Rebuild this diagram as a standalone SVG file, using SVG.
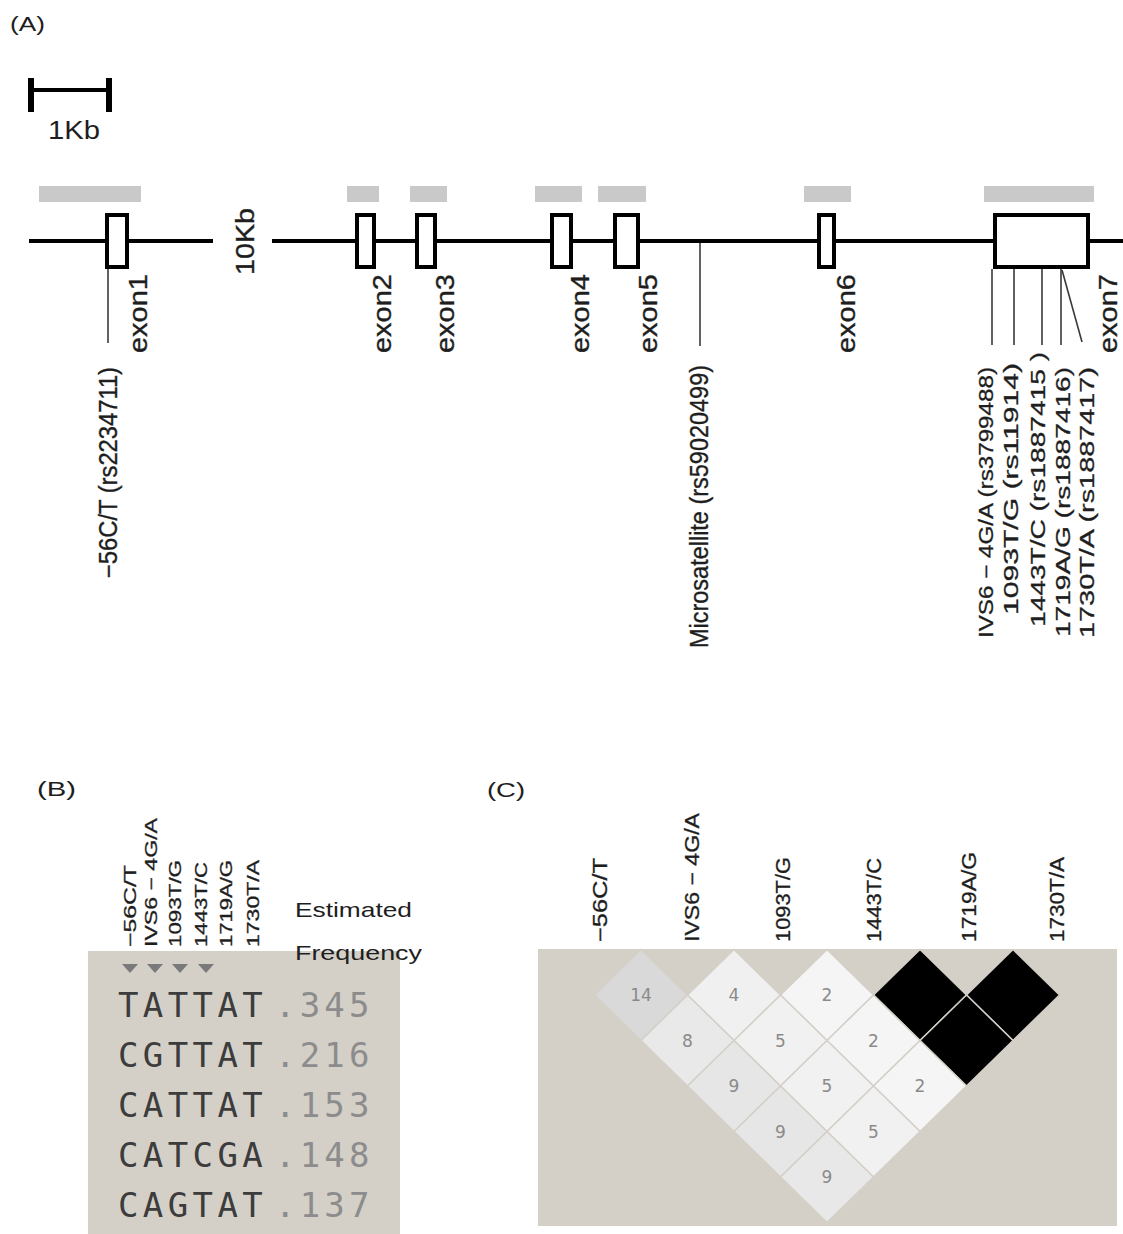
<svg xmlns="http://www.w3.org/2000/svg" width="1123" height="1234" viewBox="0 0 1123 1234">
<style>
.lbl{font-family:"Liberation Sans",Arial,sans-serif;fill:#1e1e1e}
.rot{font-family:"Liberation Sans",Arial,sans-serif;fill:#1e1e1e;font-size:25px;stroke:#1e1e1e;stroke-width:0.35}
.rs{font-family:"Liberation Sans",Arial,sans-serif;fill:#1e1e1e;font-size:20px;stroke:#1e1e1e;stroke-width:0.3}
.hdr{font-family:"Liberation Sans",Arial,sans-serif;fill:#1e1e1e;font-size:17px;stroke:#1e1e1e;stroke-width:0.3}
.hdrc{font-family:"Liberation Sans",Arial,sans-serif;fill:#1e1e1e;font-size:20px;stroke:#1e1e1e;stroke-width:0.3}
.gene{stroke:#000;stroke-width:4;fill:none}
.exon{stroke:#000;stroke-width:4;fill:#fff}
.bar{fill:#c9c9c9}
.tick{stroke:#3a3a3a;stroke-width:1.6;fill:none}
.hap{font-family:"DejaVu Sans Mono",monospace;font-size:34px;fill:#3c3c3c;letter-spacing:4.4px}
.frq{font-family:"DejaVu Sans Mono",monospace;font-size:34px;fill:#8c8c8c;letter-spacing:4.2px}
.bg{fill:#d4d0c8}
.cell{stroke:#d4d0c8;stroke-width:1.5}
.num{font-family:"DejaVu Sans",sans-serif;font-size:17px;fill:#8a8a8a;text-anchor:middle}
.tri{fill:#7a7a7a}
</style>

<g id="panel-A">
  <text class="lbl" x="10" y="31" font-size="21" textLength="35" lengthAdjust="spacingAndGlyphs">(A)</text>
  <g id="scale-bar">
    <line x1="31" y1="90" x2="110" y2="90" stroke="#000" stroke-width="4"/>
    <line x1="31" y1="78" x2="31" y2="112" stroke="#000" stroke-width="6"/>
    <line x1="109" y1="78" x2="109" y2="112" stroke="#000" stroke-width="6"/>
    <text class="lbl" x="48" y="139" font-size="25" textLength="52" lengthAdjust="spacingAndGlyphs">1Kb</text>
  </g>
  <g id="gene-line">
    <line class="gene" x1="29" y1="241" x2="213" y2="241"/>
    <line class="gene" x1="272" y1="241" x2="1123" y2="241"/>
    <text class="rot" transform="translate(254,275) rotate(-90)" textLength="67" lengthAdjust="spacingAndGlyphs">10Kb</text>
  </g>
  <g id="exon1">
    <rect class="bar" x="39" y="186" width="102" height="16"/>
    <rect class="exon" x="107" y="215" width="20" height="52"/>
    <text class="rot" transform="translate(147,353) rotate(-90)" textLength="79" lengthAdjust="spacingAndGlyphs">exon1</text>
  </g>
  <g id="exon2">
    <rect class="bar" x="347" y="186" width="32" height="16"/>
    <rect class="exon" x="357" y="215" width="17" height="52"/>
    <text class="rot" transform="translate(391,353) rotate(-90)" textLength="79" lengthAdjust="spacingAndGlyphs">exon2</text>
  </g>
  <g id="exon3">
    <rect class="bar" x="410" y="186" width="37" height="16"/>
    <rect class="exon" x="417" y="215" width="18" height="52"/>
    <text class="rot" transform="translate(454,353) rotate(-90)" textLength="79" lengthAdjust="spacingAndGlyphs">exon3</text>
  </g>
  <g id="exon4">
    <rect class="bar" x="535" y="186" width="47" height="16"/>
    <rect class="exon" x="552" y="215" width="19" height="52"/>
    <text class="rot" transform="translate(589,353) rotate(-90)" textLength="79" lengthAdjust="spacingAndGlyphs">exon4</text>
  </g>
  <g id="exon5">
    <rect class="bar" x="598" y="186" width="48" height="16"/>
    <rect class="exon" x="615" y="215" width="23" height="52"/>
    <text class="rot" transform="translate(657,353) rotate(-90)" textLength="79" lengthAdjust="spacingAndGlyphs">exon5</text>
  </g>
  <g id="exon6">
    <rect class="bar" x="804" y="186" width="47" height="16"/>
    <rect class="exon" x="819" y="215" width="15" height="52"/>
    <text class="rot" transform="translate(855,353) rotate(-90)" textLength="79" lengthAdjust="spacingAndGlyphs">exon6</text>
  </g>
  <g id="exon7">
    <rect class="bar" x="984" y="186" width="110" height="16"/>
    <rect class="exon" x="995" y="215" width="93" height="52"/>
    <text class="rot" transform="translate(1117,353) rotate(-90)" textLength="79" lengthAdjust="spacingAndGlyphs" font-size="20">exon7</text>
  </g>
  <g id="snp-labels">
    <text class="rot" transform="translate(117,578) rotate(-90)" textLength="211" lengthAdjust="spacingAndGlyphs">−56C/T (rs2234711)</text>
    <text class="rot" transform="translate(708,648) rotate(-90)" textLength="283" lengthAdjust="spacingAndGlyphs">Microsatellite (rs59020499)</text>
    <text class="rs" transform="translate(993,638) rotate(-90)" textLength="271" lengthAdjust="spacingAndGlyphs">IVS6 − 4G/A (rs3799488)</text>
    <text class="rs" transform="translate(1018,615) rotate(-90)" textLength="252" lengthAdjust="spacingAndGlyphs">1093T/G (rs11914)</text>
    <text class="rs" transform="translate(1045,627) rotate(-90)" textLength="275" lengthAdjust="spacingAndGlyphs">1443T/C (rs1887415 )</text>
    <text class="rs" transform="translate(1070,637) rotate(-90)" textLength="270" lengthAdjust="spacingAndGlyphs">1719A/G (rs1887416)</text>
    <text class="rs" transform="translate(1094,638) rotate(-90)" textLength="271" lengthAdjust="spacingAndGlyphs">1730T/A (rs1887417)</text>
  </g>
</g>

<g id="connectors">
  <line class="tick" x1="108" y1="269" x2="108" y2="343"/>
  <line class="tick" x1="700" y1="243" x2="700" y2="346"/>
  <line class="tick" x1="992" y1="269" x2="992" y2="345"/>
  <line class="tick" x1="1014" y1="269" x2="1014" y2="345"/>
  <line class="tick" x1="1042" y1="269" x2="1042" y2="345"/>
  <line class="tick" x1="1061" y1="269" x2="1061" y2="345"/>
  <line class="tick" x1="1062" y1="270" x2="1082" y2="342"/>
</g>

<g id="panel-B">
  <text class="lbl" x="37" y="796" font-size="21" textLength="39" lengthAdjust="spacingAndGlyphs">(B)</text>
  <rect class="bg" x="88" y="951" width="312" height="283"/>
  <g id="b-headers">
    <text class="hdr" transform="translate(136,947) rotate(-90)" textLength="82" lengthAdjust="spacingAndGlyphs">−56C/T</text>
    <text class="hdr" transform="translate(157,947) rotate(-90)" textLength="129" lengthAdjust="spacingAndGlyphs">IVS6 − 4G/A</text>
    <text class="hdr" transform="translate(181,947) rotate(-90)" textLength="87" lengthAdjust="spacingAndGlyphs">1093T/G</text>
    <text class="hdr" transform="translate(207,947) rotate(-90)" textLength="85" lengthAdjust="spacingAndGlyphs">1443T/C</text>
    <text class="hdr" transform="translate(232,947) rotate(-90)" textLength="87" lengthAdjust="spacingAndGlyphs">1719A/G</text>
    <text class="hdr" transform="translate(259,947) rotate(-90)" textLength="87" lengthAdjust="spacingAndGlyphs">1730T/A</text>
    <text class="lbl" x="295" y="917" font-size="21" textLength="117" lengthAdjust="spacingAndGlyphs">Estimated</text>
    <text class="lbl" x="295" y="960" font-size="21" textLength="127" lengthAdjust="spacingAndGlyphs">Frequency</text>
  </g>
  <g id="b-markers">
    <polygon class="tri" points="122,964 138,964 130,973"/>
    <polygon class="tri" points="147,964 163,964 155,973"/>
    <polygon class="tri" points="172,964 188,964 180,973"/>
    <polygon class="tri" points="198,964 214,964 206,973"/>
  </g>
  <g id="haplotypes">
    <text class="hap" x="118" y="1017">TATTAT</text><text class="frq" x="275" y="1017">.345</text>
    <text class="hap" x="118" y="1067">CGTTAT</text><text class="frq" x="275" y="1067">.216</text>
    <text class="hap" x="118" y="1117">CATTAT</text><text class="frq" x="275" y="1117">.153</text>
    <text class="hap" x="118" y="1167">CATCGA</text><text class="frq" x="275" y="1167">.148</text>
    <text class="hap" x="118" y="1217">CAGTAT</text><text class="frq" x="275" y="1217">.137</text>
  </g>
</g>

<g id="panel-C">
  <text class="lbl" x="487" y="797" font-size="21" textLength="38" lengthAdjust="spacingAndGlyphs">(C)</text>
  <g id="c-headers">
    <text class="hdrc" transform="translate(607,942) rotate(-90)" textLength="84" lengthAdjust="spacingAndGlyphs">−56C/T</text>
    <text class="hdrc" transform="translate(699,942) rotate(-90)" textLength="129" lengthAdjust="spacingAndGlyphs">IVS6 − 4G/A</text>
    <text class="hdrc" transform="translate(790,942) rotate(-90)" textLength="85" lengthAdjust="spacingAndGlyphs">1093T/G</text>
    <text class="hdrc" transform="translate(881,942) rotate(-90)" textLength="84" lengthAdjust="spacingAndGlyphs">1443T/C</text>
    <text class="hdrc" transform="translate(976,942) rotate(-90)" textLength="90" lengthAdjust="spacingAndGlyphs">1719A/G</text>
    <text class="hdrc" transform="translate(1064,942) rotate(-90)" textLength="85" lengthAdjust="spacingAndGlyphs">1730T/A</text>
  </g>
  <rect class="bg" x="538" y="949" width="579" height="277"/>
  <g id="ld-cells">
    <polygon class="cell" fill="#d9d9d9" points="641,949.5 687.5,995 641,1040.5 594.5,995"/>
    <polygon class="cell" fill="#f0f0f0" points="734,949.5 780.5,995 734,1040.5 687.5,995"/>
    <polygon class="cell" fill="#f5f5f5" points="827,949.5 873.5,995 827,1040.5 780.5,995"/>
    <polygon class="cell" fill="#000" points="920,949.5 966.5,995 920,1040.5 873.5,995"/>
    <polygon class="cell" fill="#000" points="1013,949.5 1059.5,995 1013,1040.5 966.5,995"/>
    <polygon class="cell" fill="#e9e9e9" points="687.5,995 734,1040.5 687.5,1086 641,1040.5"/>
    <polygon class="cell" fill="#f1f1f1" points="780.5,995 827,1040.5 780.5,1086 734,1040.5"/>
    <polygon class="cell" fill="#f5f5f5" points="873.5,995 920,1040.5 873.5,1086 827,1040.5"/>
    <polygon class="cell" fill="#000" points="966.5,995 1013,1040.5 966.5,1086 920,1040.5"/>
    <polygon class="cell" fill="#e6e6e6" points="734,1040.5 780.5,1086 734,1131.5 687.5,1086"/>
    <polygon class="cell" fill="#f1f1f1" points="827,1040.5 873.5,1086 827,1131.5 780.5,1086"/>
    <polygon class="cell" fill="#f5f5f5" points="920,1040.5 966.5,1086 920,1131.5 873.5,1086"/>
    <polygon class="cell" fill="#e6e6e6" points="780.5,1086 827,1131.5 780.5,1177 734,1131.5"/>
    <polygon class="cell" fill="#f1f1f1" points="873.5,1086 920,1131.5 873.5,1177 827,1131.5"/>
    <polygon class="cell" fill="#e8e8e8" points="827,1131.5 873.5,1177 827,1222.5 780.5,1177"/>
  </g>
  <g id="ld-values">
    <text class="num" x="641" y="1001">14</text>
    <text class="num" x="734" y="1001">4</text>
    <text class="num" x="827" y="1001">2</text>
    <text class="num" x="687.5" y="1046.5">8</text>
    <text class="num" x="780.5" y="1046.5">5</text>
    <text class="num" x="873.5" y="1046.5">2</text>
    <text class="num" x="734" y="1092">9</text>
    <text class="num" x="827" y="1092">5</text>
    <text class="num" x="920" y="1092">2</text>
    <text class="num" x="780.5" y="1137.5">9</text>
    <text class="num" x="873.5" y="1137.5">5</text>
    <text class="num" x="827" y="1183">9</text>
  </g>
</g>
</svg>
